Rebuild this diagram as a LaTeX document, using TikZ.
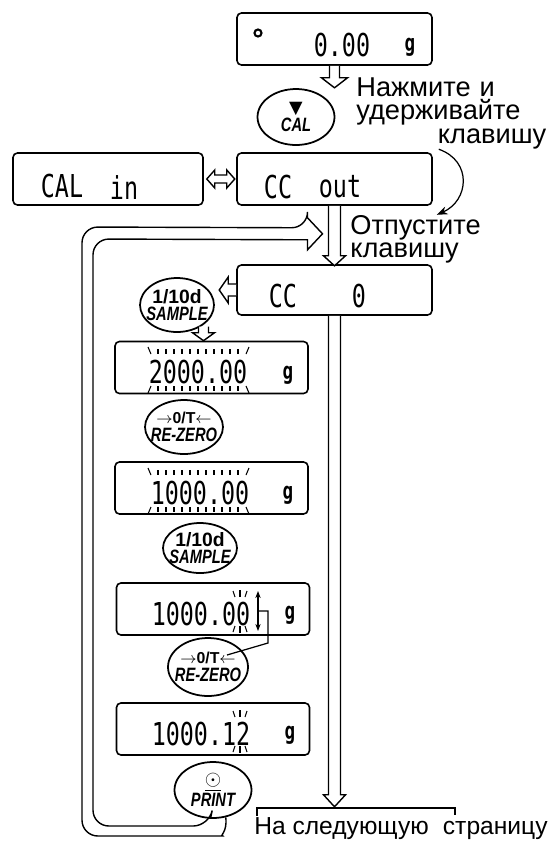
\documentclass[tikz,border=0pt]{standalone}
\usepackage{fontspec}
\setmainfont{Liberation Sans}
\newfontfamily\segfont{DejaVu Sans Mono}
\newfontfamily\symfont{DejaVu Sans}
\usetikzlibrary{arrows.meta,calc,shapes.geometric}

\newcommand{\lcdtxt}[1]{\scalebox{1}[1.35]{#1}}
\newcommand{\narrow}[1]{\scalebox{0.76}[1]{#1}}

\tikzset{
  lcd/.style={draw,line width=0.9pt,rounded corners=2.5pt,minimum width=3.86cm,minimum height=1.04cm,inner sep=0pt},
  seg/.style={inner sep=0pt,font=\segfont\fontsize{13.3}{13.3}\selectfont},
  unit/.style={inner sep=0pt,font=\segfont\bfseries\fontsize{10}{10}\selectfont},
  key/.style={draw,ellipse,line width=1pt,inner xsep=-8pt,inner ysep=-4pt,align=center,
    font=\bfseries\itshape\fontsize{11}{10}\selectfont},
  note/.style={inner sep=0pt,align=left,font=\fontsize{15.5}{13.6}\selectfont},
  pipe/.style={line width=0.8pt,fill=white},
  tick/.style={line width=0.6pt},
  pics/hollow/.style n args={4}{code={%
    \draw[pipe] (0,-#2) -- (#1-#4,-#2) -- (#1-#4,-#3) -- (#1,0) -- (#1-#4,#3) -- (#1-#4,#2) -- (0,#2);
  }},
}

\begin{document}
\begin{tikzpicture}[x=0.02cm,y=-0.02cm,>=Stealth]
  \useasboundingbox (0,0) rectangle (550,846);
  % дисплеи
  \node[lcd,minimum width=3.9cm] (lcdzero) at (334.5,39) {};
  \node[lcd,minimum width=3.8cm] (lcdcalin) at (108,179) {};
  \node[lcd,minimum width=3.9cm] (lcdccout) at (334.5,179) {};
  \node[lcd,minimum width=3.9cm,minimum height=1cm] (lcdcczero) at (334.5,290) {};
  \node[lcd] (lcdtwo) at (211.5,367.5) {};
  \node[lcd] (lcdone) at (211.5,488) {};
  \node[lcd] (lcdlast) at (213,609) {};
  \node[lcd] (lcdresult) at (213,729) {};
  % показания
  \draw[line width=1.2pt] (258,33) circle[radius=2pt];
  \node[seg] (zeroval) at (342,45) {\lcdtxt{0.00}};
  \node[unit] (zerog) at (410,47) {\lcdtxt{g}};
  \node[seg] (calword) at (62,186) {\lcdtxt{CAL}};
  \node[seg] (inword) at (124,188) {\lcdtxt{in}};
  \node[seg] (ccword) at (278,187) {\lcdtxt{CC}};
  \node[seg] (outword) at (340,187) {\lcdtxt{out}};
  \node[seg] (ccwordb) at (283,296) {\lcdtxt{CC}};
  \node[seg] (zerodigit) at (359,296) {\lcdtxt{0}};
  \node[seg] (twoval) at (198,372) {\lcdtxt{2000.00}};
  \node[unit] (twog) at (288,375) {\lcdtxt{g}};
  \node[seg] (oneval) at (200,493) {\lcdtxt{1000.00}};
  \node[unit] (oneg) at (288,495) {\lcdtxt{g}};
  \node[seg] (lastval) at (201,614) {\lcdtxt{1000.00}};
  \node[unit] (lastg) at (290,615) {\lcdtxt{g}};
  \node[seg] (resultval) at (201,734) {\lcdtxt{1000.12}};
  \node[unit] (resultg) at (290,735) {\lcdtxt{g}};
  % мигание всех разрядов
  \foreach \dy in {0,121}{
    \foreach \tx in {158,166,...,238}{
      \draw[tick] (\tx,349+\dy) -- (\tx,354+\dy);
      \draw[tick] (\tx,386+\dy) -- (\tx,391+\dy);
    }
    \draw[tick] (148,347+\dy) -- (151,354+\dy);
    \draw[tick] (249,347+\dy) -- (246,354+\dy);
    \draw[tick] (151,386+\dy) -- (148,393+\dy);
    \draw[tick] (246,386+\dy) -- (249,393+\dy);
  }
  % мигание последнего разряда
  \foreach \dy in {0,120}{
    \draw[tick] (233,591+\dy) -- (235,597+\dy);
    \draw[tick] (240,590+\dy) -- (240,597+\dy);
    \draw[tick] (247,591+\dy) -- (245,597+\dy);
    \draw[tick] (235,626+\dy) -- (233,632+\dy);
    \draw[tick] (240,626+\dy) -- (240,633+\dy);
    \draw[tick] (245,626+\dy) -- (247,632+\dy);
  }
  % клавиши
  \node[key,minimum width=1.54cm,minimum height=1.12cm] (keycal) at (296,117)
    {{\symfont\upshape\fontsize{10}{10}\selectfont ▼}\\\narrow{CAL}};
  \node[key,minimum width=1.48cm,minimum height=1.08cm] (keysample) at (177,305)
    {{\upshape 1/10d}\\\narrow{SAMPLE}};
  \node[key,minimum width=1.56cm,minimum height=1.08cm] (keyrezero) at (184,427)
    {{\upshape\fontsize{9}{9}\selectfont$\to$0/T$\leftarrow$}\\\narrow{RE-ZERO}};
  \node[key,minimum width=1.48cm,minimum height=1cm] (keysampleb) at (200,548)
    {{\upshape 1/10d}\\\narrow{SAMPLE}};
  \node[key,minimum width=1.6cm,minimum height=1.16cm] (keyrezerob) at (208,667)
    {{\upshape\fontsize{9}{9}\selectfont$\to$0/T$\leftarrow$}\\\narrow{RE-ZERO}};
  \node[key,minimum width=1.54cm,minimum height=1.12cm] (keyprint) at (213,790)
    {{\upshape\fontsize{12}{10}\selectfont$\underline{\odot}$}\\\narrow{PRINT}};
  % подписи
  \node[note,anchor=north west,text width=3.8cm] (holdnote) at (356,77)
    {Нажмите и\\удерживайте\\\hspace*{\fill}клавишу};
  \node[note,anchor=north west,font=\fontsize{15.5}{13.1}\selectfont] (releasenote) at (350,215)
    {Отпустите\\клавишу};
  \node[note,anchor=base west,font=\fontsize{14}{14}\selectfont] (nextpage) at (254,834)
    {На следующую\hspace{0.3em} страницу};
  % полые стрелки
  \pic[rotate=-90] at (lcdzero.south) {hollow={22}{5}{13}{10}};
  \draw[pipe] ($(lcdcalin.east)+(3,0)$) -- ++(8,-9) -- ++(0,5) -- ++(12,0) -- ++(0,-5)
    -- ++(8,9) -- ++(-8,9) -- ++(0,-5) -- ++(-12,0) -- ++(0,5) -- cycle;
  \pic[rotate=-90] at (lcdccout.south) {hollow={60}{6}{11}{10}};
  \pic[rotate=180] at (lcdcczero.west) {hollow={17}{6}{13}{9}};
  \pic[rotate=-90] at ($(lcdtwo.north)+(-8,-14)$) {hollow={14}{5}{11}{8}};
  \pic[rotate=-90] at (lcdcczero.south) {hollow={491}{6}{11}{12}};
  % возврат от PRINT
  \coordinate (looptip) at ($(lcdccout.south)+(-12,28)$);
  \draw[line width=0.8pt,rounded corners=9] (keyprint.-65) .. controls +(2,15) and +(12,0) .. (207,836)
    -- (82,836) -- (82,227) -- ($(looptip)+(-15,-6)$) [sharp corners] -- ++(0,-10)
    -- (looptip) -- ($(looptip)+(-15,16)$) -- ++(0,-10) [rounded corners=9]
    -- (93,239) -- (93,826) -- (209,826) -- (keyprint.-95);
  \draw[line width=0.6pt] (257,816) -- (257,808) -- (455,808) -- (455,815);
  % нажать и отпустить
  \draw[->,line width=0.7pt] ($(lcdccout.north east)+(6,-3)$) .. controls +(34,12) and +(32,-14)
    .. ($(lcdccout.south east)+(4,9)$);
  % выбор разряда
  \draw[{Stealth[length=4pt]}-{Stealth[length=4pt]},line width=0.7pt] (258,591) -- (258,631);
  \draw[line width=0.7pt] (259,611) -| (268,643) -- ($(keyrezerob.center)+(19,-12)$);
\end{tikzpicture}
\end{document}
